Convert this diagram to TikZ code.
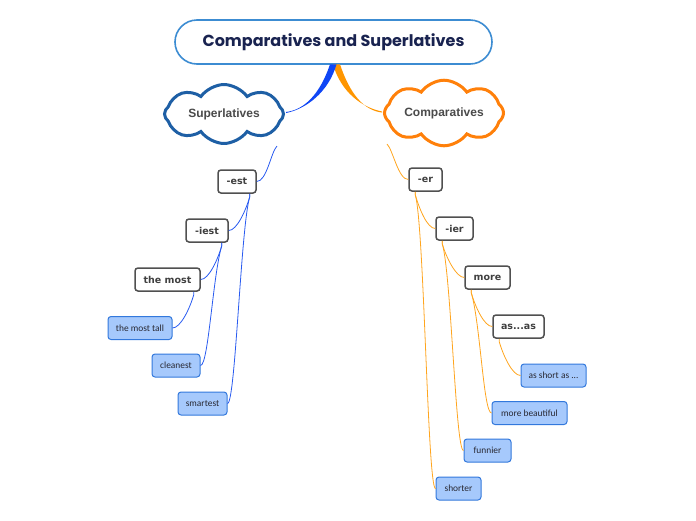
\documentclass[tikz,border=0pt]{standalone}
\usepackage{fontspec}
\setmainfont{Liberation Sans}
\newfontfamily\titlefont{Poppins}
\newfontfamily\boxfont{DejaVu Sans}
\newfontfamily\leaffont{Carlito}
\usetikzlibrary{shapes.symbols,calc}
\definecolor{titleborder}{RGB}{60,140,210}
\definecolor{titletext}{RGB}{25,35,80}
\definecolor{supblue}{RGB}{30,95,165}
\definecolor{comporange}{RGB}{255,128,10}
\definecolor{linkblue}{RGB}{40,90,240}
\definecolor{linkorange}{RGB}{255,165,30}
\definecolor{thickblue}{RGB}{15,70,245}
\definecolor{thickorange}{RGB}{255,150,0}
\definecolor{leaffill}{RGB}{166,201,252}
\definecolor{leafdraw}{RGB}{50,120,220}
\definecolor{leaftext}{RGB}{40,40,50}
\definecolor{boxdraw}{RGB}{80,80,80}
\definecolor{boxtext}{RGB}{64,64,64}
\definecolor{cloudtext}{RGB}{74,74,74}
\tikzset{
  titlebox/.style={draw=titleborder, line width=1.6pt, rounded corners=22pt, fill=white,
    minimum width=317pt, minimum height=44pt, inner sep=0pt,
    font=\titlefont\bfseries\fontsize{16}{19}\selectfont, text=titletext},
  cloudnode/.style={cloud, cloud puffs=8, cloud puff arc=110, aspect=2.4, fill=white,
    line width=3pt, minimum width=119pt, minimum height=50pt, inner sep=0pt,
    font=\bfseries\fontsize{12}{14}\selectfont, text=cloudtext},
  gbox/.style={draw=boxdraw, line width=1.5pt, rounded corners=3pt, fill=white,
    font=\boxfont\bfseries\fontsize{9.5}{11}\selectfont, text=boxtext,
    minimum height=23pt, inner xsep=4pt, inner ysep=0pt},
  leaf/.style={draw=leafdraw, line width=1pt, rounded corners=3pt, fill=leaffill,
    font=\leaffont\fontsize{9.4}{11}\selectfont, text=leaftext,
    minimum height=23pt, inner xsep=3pt, inner ysep=0pt},
  blink/.style={draw=linkblue, line width=0.8pt},
  olink/.style={draw=linkorange, line width=0.8pt},
}
\newcommand\mmlink[5]{\draw[#1] (#2) -- ++(0,3) .. controls +(#4) and +(#5) .. (#3);}
\begin{document}
\begin{tikzpicture}[x=1pt,y=-1pt]
\useasboundingbox (0,0) rectangle (696,520);
% nodes
\node[titlebox] (title) at (333.5,42) {Comparatives and Superlatives};
\node[cloudnode, draw=supblue] (sup) at (224,114) {Superlatives};
\node[cloudnode, draw=comporange] (comp) at (444,113) {Comparatives};

\node[gbox, minimum width=38pt] (est) at (237,181.5) {-est};
\node[gbox, minimum width=42pt] (iest) at (207,230.5) {-iest};
\node[gbox, minimum width=65pt] (most) at (167.5,279.5) {the most};
\node[leaf, minimum width=64pt] (tall) at (140,328) {the most tall};
\node[leaf, minimum width=48pt] (clean) at (176,365.5) {cleanest};
\node[leaf, minimum width=49pt] (smart) at (202.5,403.5) {smartest};

\node[gbox, minimum width=33pt] (er) at (425.5,179.5) {-er};
\node[gbox, minimum width=37pt] (ier) at (454.5,228.5) {-ier};
\node[gbox, minimum width=45pt] (more) at (487.5,277.5) {more};
\node[gbox, minimum width=51pt] (asas) at (518.5,326.5) {as...as};
\node[leaf, minimum width=65pt] (short) at (553.5,375.5) {as short as ...};
\node[leaf, minimum width=75pt] (beaut) at (529.5,413) {more beautiful};
\node[leaf, minimum width=47pt] (funny) at (487.5,450.5) {funnier};
\node[leaf, minimum width=45pt] (shorter) at (458.5,488.5) {shorter};

% thick tapered connectors
\fill[thickorange] ($(title.south)+(-0.5,-0.5)$) .. controls +(8,28) and +(-20,-4) .. ($(comp.west)+(-1,-1.5)$)
  -- ($(comp.west)+(-1,-0.5)$) .. controls +(-18,-2) and +(10,30) .. ($(title.south)+(6.5,-0.5)$) -- cycle;
\fill[thickblue] ($(title.south)+(-3.5,-0.5)$) .. controls +(-10,30) and +(18,-2) .. ($(sup.east)+(1,-2)$)
  -- ($(sup.east)+(1,-1)$) .. controls +(20,-4) and +(-8,28) .. ($(title.south)+(3,-0.5)$) -- cycle;

% Superlatives branch
\draw[blink] ($(sup.center)+(53,32)$) .. controls +(-6,6) and +(10,0) .. (est.east);
\mmlink{blink}{$(est.south east)+(-7,0)$}{iest.east}{-4,14}{8,0}
\mmlink{blink}{$(est.south east)+(-7,0)$}{smart.east}{-9,30}{8,0}
\mmlink{blink}{$(iest.south east)+(-7,0)$}{most.east}{-4,14}{8,0}
\mmlink{blink}{$(iest.south east)+(-7,0)$}{clean.east}{-9,30}{8,0}
\mmlink{blink}{$(most.south east)+(-7,0)$}{tall.east}{-4,14}{8,0}

% Comparatives branch
\draw[olink] ($(comp.center)+(-57,31)$) .. controls +(6,6) and +(-10,0) .. (er.west);
\mmlink{olink}{$(er.south west)+(7,0)$}{ier.west}{4,14}{-8,0}
\mmlink{olink}{$(er.south west)+(7,0)$}{shorter.west}{9,30}{-8,0}
\mmlink{olink}{$(ier.south west)+(7,0)$}{more.west}{4,14}{-8,0}
\mmlink{olink}{$(ier.south west)+(7,0)$}{funny.west}{9,30}{-8,0}
\mmlink{olink}{$(more.south west)+(7,0)$}{asas.west}{4,14}{-8,0}
\mmlink{olink}{$(more.south west)+(7,0)$}{beaut.west}{9,30}{-8,0}
\mmlink{olink}{$(asas.south west)+(7,0)$}{short.west}{4,14}{-8,0}
\end{tikzpicture}
\end{document}
